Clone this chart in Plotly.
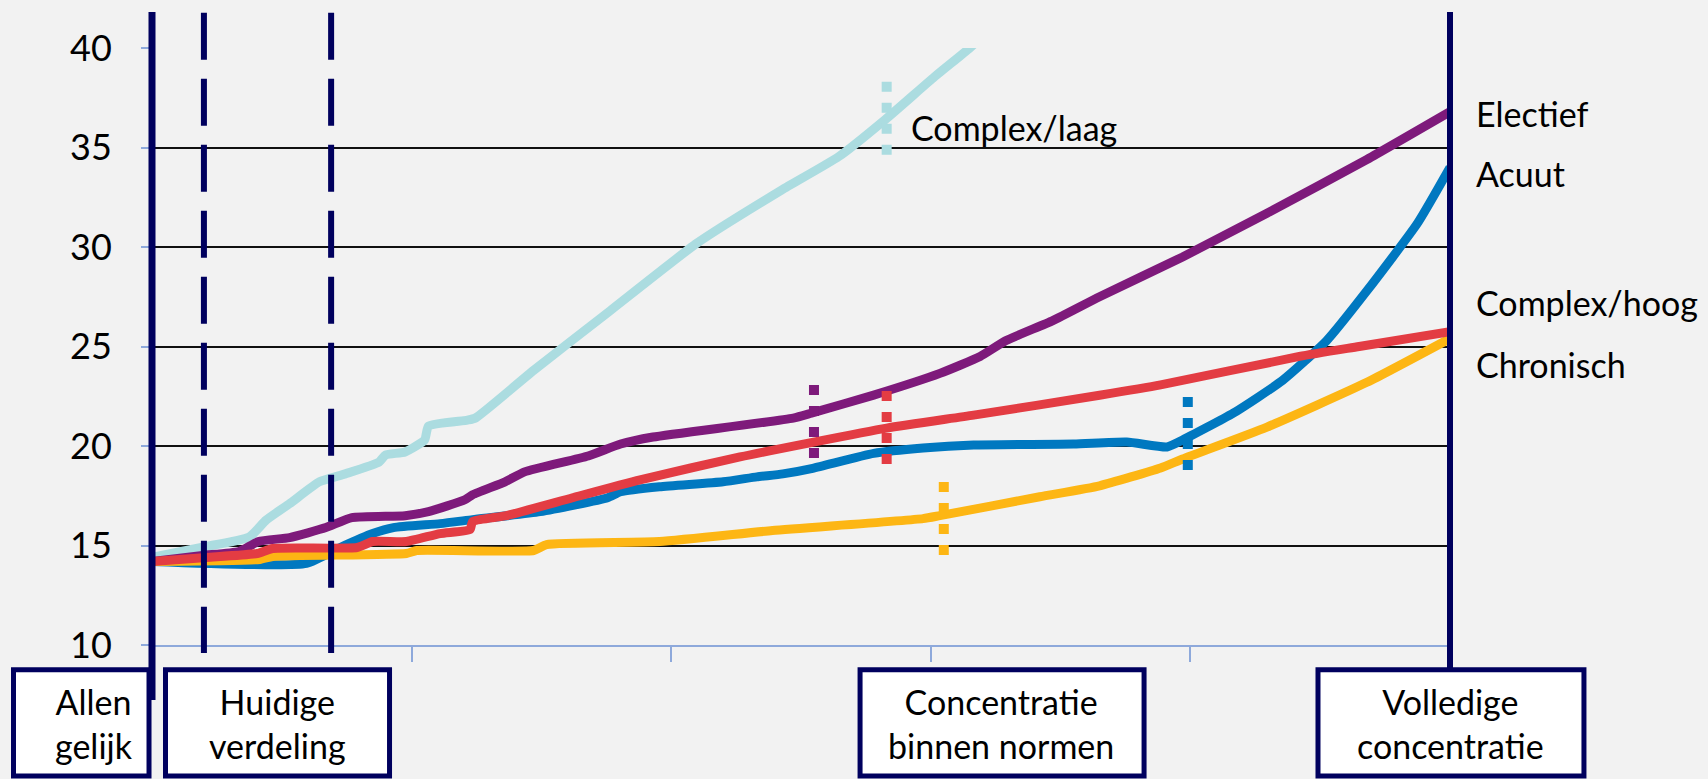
import plotly.graph_objects as go

# ---- series (x: position along the scenario axis, 0..100; y: value) ----
laag_x = [0, 3.9, 7.5, 8.8, 10.6, 12.9, 14.9, 17.5, 18.0, 19.5, 21.0, 21.3, 24.3, 24.9,
          29.4, 35.3, 42.0, 48.5, 52.9, 56.5, 60.3, 63.0, 64.5]
laag_y = [14.4, 14.92, 15.43, 16.28, 17.1, 18.2, 18.6, 19.2, 19.55, 19.7, 20.3, 21.0, 21.3, 21.4,
          23.8, 26.8, 30.2, 32.86, 34.54, 36.41, 38.56, 40.0, 40.9]

electief_x = [0, 3.9, 6.7, 8.2, 10.6, 13.4, 15.4, 19.5, 21.3, 24.1, 24.7, 27.2, 28.7, 33.6, 36.1,
              38.6, 49.4, 50.8, 55.6, 60.7, 63.8, 65.8, 69.4, 73.0, 79.4, 85.9, 93.6, 100]
electief_y = [14.2, 14.5, 14.7, 15.2, 15.4, 15.9, 16.4, 16.5, 16.7, 17.3, 17.55, 18.2, 18.7, 19.5, 20.1,
              20.45, 21.4, 21.65, 22.56, 23.65, 24.5, 25.3, 26.3, 27.5, 29.5, 31.7, 34.4, 36.8]

hoog_x = [0, 4.2, 8.1, 9.3, 15.8, 17.0, 19.6, 22.2, 24.5, 24.7, 27.3, 32.4, 37.6, 45.3, 56.6,
          63.3, 73.0, 77.7, 88.4, 93.0, 100]
hoog_y = [14.2, 14.4, 14.6, 14.85, 14.9, 15.2, 15.2, 15.6, 15.8, 16.2, 16.5, 17.4, 18.3, 19.45, 20.9,
          21.55, 22.55, 23.07, 24.5, 25.0, 25.75]

acuut_x = [0, 11.9, 14.5, 17.0, 18.6, 22.2, 24.7, 29.9, 35.1, 36.1, 39.1, 44.0, 46.6, 48.6, 50.9,
           55.6, 59.4, 63.3, 71.0, 75.1, 78.2, 79.4, 83.3, 87.1, 90.5, 93.6, 97.5, 100]
acuut_y = [14.2, 14.1, 14.9, 15.6, 15.9, 16.1, 16.3, 16.7, 17.4, 17.7, 17.95, 18.2, 18.45, 18.6, 18.88,
           19.63, 19.9, 20.05, 20.1, 20.2, 19.95, 20.3, 21.65, 23.3, 25.3, 27.8, 31.2, 34.0]

chronisch_x = [0, 8.3, 9.3, 19.6, 20.4, 29.4, 30.4, 39.1, 47.8, 59.4, 60.7, 68.4, 73.0, 77.7, 79.4,
               85.9, 93.6, 100]
chronisch_y = [14.2, 14.3, 14.45, 14.6, 14.75, 14.75, 15.05, 15.2, 15.75, 16.35, 16.5, 17.45, 18.0, 18.9,
               19.35, 20.95, 23.2, 25.4]

# "Concentratie binnen normen" points per series: x position and vertical span
norm_x = {"Complex/laag": 56.6, "Electief": 51.0, "Complex/hoog": 56.6, "Chronisch": 61.0, "Acuut": 79.8}
norm_top = {"Complex/laag": 38.3, "Electief": 23.07, "Complex/hoog": 22.76, "Chronisch": 18.19, "Acuut": 22.46}
norm_bottom = {"Complex/laag": 34.6, "Electief": 19.3, "Complex/hoog": 19.0, "Chronisch": 14.47, "Acuut": 18.69}

# current distribution bounds
huidig_bounds = [4.0, 13.8]

y_ticks = [10, 15, 20, 25, 30, 35, 40]
x_ticks = [0, 20, 40, 60, 80, 100]

scenario_labels = ["Allen<br>gelijk", "Huidige<br>verdeling", "Concentratie<br>binnen normen",
                   "Volledige<br>concentratie"]

COLORS = {
    "Complex/laag": "#ABDCE0",
    "Electief": "#7E1A7B",
    "Acuut": "#0078C0",
    "Chronisch": "#FDB614",
    "Complex/hoog": "#E33C43",
}
NAVY = "#00005E"
AXIS_BLUE = "#8EA9DB"
BG = "#F2F2F2"
FONT = "Lato"
LABEL_SIZE = 34

series = [
    ("Complex/laag", laag_x, laag_y),
    ("Electief", electief_x, electief_y),
    ("Acuut", acuut_x, acuut_y),
    ("Chronisch", chronisch_x, chronisch_y),
    ("Complex/hoog", hoog_x, hoog_y),
]

fig = go.Figure()
for name, xs, ys in series:
    fig.add_trace(go.Scatter(x=xs, y=ys, mode="lines", name=name,
                             line=dict(color=COLORS[name], width=9, shape="spline", smoothing=0.5),
                             showlegend=False, hoverinfo="skip"))

shapes = []
# solid boundary lines at both ends of the scenario axis
shapes.append(dict(type="line", xref="paper", yref="paper", x0=0, x1=0, y0=-0.092, y1=1.0603,
                   line=dict(color=NAVY, width=7)))
shapes.append(dict(type="line", xref="paper", yref="paper", x0=1.0, x1=1.0, y0=-0.04, y1=1.0603,
                   line=dict(color=NAVY, width=6)))
# dashed bounds of the current distribution
for bx in huidig_bounds:
    shapes.append(dict(type="line", xref="x", yref="paper", x0=bx, x1=bx, y0=1.0592, y1=-0.0134,
                       line=dict(color=NAVY, width=6, dash="47px,19px")))
# dotted markers where each series meets the norms
for name in norm_x:
    shapes.append(dict(type="line", xref="x", yref="y", x0=norm_x[name], x1=norm_x[name],
                       y0=norm_top[name], y1=norm_bottom[name],
                       line=dict(color=COLORS[name], width=10, dash="10px,11px")))

# scenario boxes below the axis
boxes = [(-0.1067, -0.0023), (0.0104, 0.183), (0.5455, 0.7643), (0.8983, 1.1032)]
for x0, x1 in boxes:
    shapes.append(dict(type="rect", xref="paper", yref="paper", x0=x0, x1=x1, y0=-0.2194, y1=-0.0415,
                       line=dict(color=NAVY, width=5), fillcolor="white", layer="above"))

annotations = []
label_centers = [-0.0447, 0.0966, 0.654, 1.0]
for txt, cx in zip(scenario_labels, label_centers):
    annotations.append(dict(text=txt, xref="paper", yref="paper", x=cx, y=-0.131,
                            xanchor="center", yanchor="middle", showarrow=False,
                            font=dict(family=FONT, size=LABEL_SIZE, color="black")))

end_labels = [("Electief", 36.7), ("Acuut", 33.7), ("Complex/hoog", 27.2), ("Chronisch", 24.1)]
for txt, yv in end_labels:
    annotations.append(dict(text=txt, xref="paper", yref="y", x=1.0185, y=yv,
                            xanchor="left", yanchor="middle", showarrow=False,
                            font=dict(family=FONT, size=LABEL_SIZE, color="black")))
annotations.append(dict(text="Complex/laag", xref="x", yref="y", x=58.3, y=36.0,
                        xanchor="left", yanchor="middle", showarrow=False,
                        font=dict(family=FONT, size=LABEL_SIZE, color="black")))

fig.update_layout(
    width=1708, height=779,
    margin=dict(l=152, r=258, t=48, b=134),
    paper_bgcolor=BG, plot_bgcolor=BG,
    shapes=shapes, annotations=annotations,
    font=dict(family=FONT, color="black"),
    xaxis=dict(range=[0, 100], tickvals=x_ticks, showticklabels=False, ticks="outside",
               ticklen=15, tickwidth=2, tickcolor=AXIS_BLUE, showline=True, linecolor=AXIS_BLUE,
               linewidth=2, showgrid=False, zeroline=False, fixedrange=True),
    yaxis=dict(range=[10, 40], tickvals=y_ticks, ticks="outside", ticklen=10, tickwidth=2,
               tickcolor=AXIS_BLUE, showgrid=True, gridcolor="#111111", gridwidth=2,
               zeroline=False, showline=False, ticklabelstandoff=22,
               tickfont=dict(family=FONT, size=36, color="black"), fixedrange=True),
)

fig.write_html("out.html")
